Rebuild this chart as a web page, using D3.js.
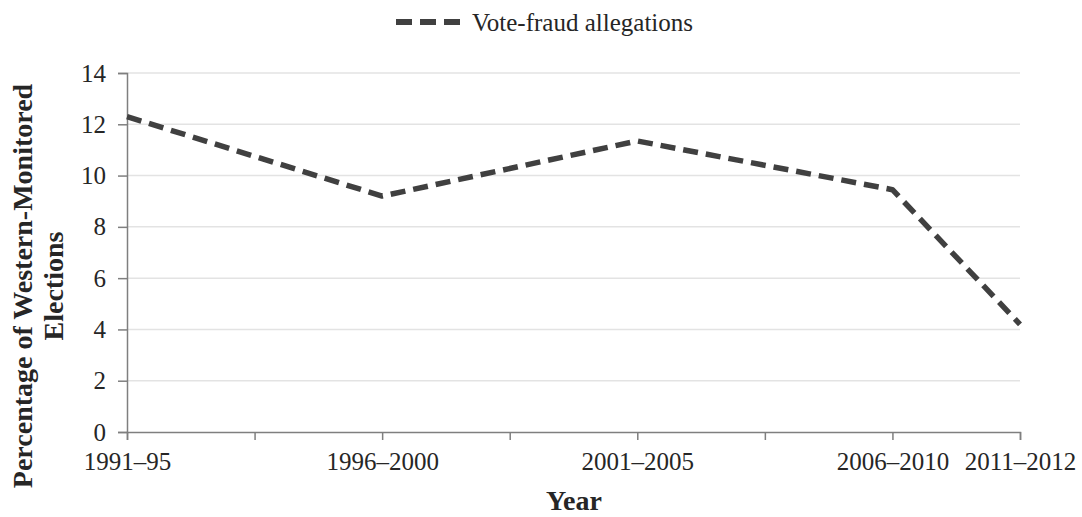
<!DOCTYPE html>
<html lang="en">
<head>
<meta charset="UTF-8">
<title>Vote-fraud allegations</title>
<script src="https://d3js.org/d3.v7.min.js"></script>
<style>
  body { margin: 0; background: #fff; }
  svg text { font-family: "Liberation Serif", "DejaVu Serif", serif; fill: #262626; }
</style>
</head>
<body>
<div id="chart"></div>
<script>
// data
const periods = ["1991–95", "1996–2000", "2001–2005", "2006–2010", "2011–2012"];
const periodPos = [0, 2, 4, 6, 7];   // position on the date-like axis (7 intervals)
const fraudPct = [12.3, 9.2, 11.35, 9.45, 4.2];
const yTicks = [0, 2, 4, 6, 8, 10, 12, 14];
const xTicks = [0, 1, 2, 3, 4, 5, 6, 7];

const width = 1082, height = 517;
const margin = {top: 73, right: 62, bottom: 85, left: 127};

const svg = d3.select("#chart").append("svg")
  .attr("width", width).attr("height", height);

const x = d3.scaleLinear().domain([0, 7]).range([margin.left, width - margin.right]);
const y = d3.scaleLinear().domain([0, 14]).range([height - margin.bottom, margin.top]);

// gridlines
svg.append("g")
  .selectAll("line")
  .data(yTicks.filter(d => d > 0))
  .enter().append("line")
  .attr("x1", x(0)).attr("x2", x(7))
  .attr("y1", d => y(d)).attr("y2", d => y(d))
  .attr("stroke", "#e3e3e3").attr("stroke-width", 1.5);

// y axis
const yAxis = svg.append("g")
  .attr("transform", `translate(${x(0)},0)`)
  .call(d3.axisLeft(y).tickValues(yTicks).tickSize(9).tickPadding(12));
yAxis.selectAll("text").style("font-size", "25px");

// x axis
const labelAt = new Map(periodPos.map((p, i) => [p, periods[i]]));
const xAxis = svg.append("g")
  .attr("transform", `translate(0,${y(0)})`)
  .call(d3.axisBottom(x).tickValues(xTicks).tickSize(8).tickPadding(12)
    .tickFormat(d => labelAt.get(d) || ""));
xAxis.selectAll("text").style("font-size", "25px");

svg.selectAll(".domain, .tick line")
  .attr("stroke", "#7f7f7f").attr("stroke-width", 1.5);

// line
const line = d3.line()
  .x((d, i) => x(periodPos[i]))
  .y(d => y(d));

svg.append("path")
  .datum(fraudPct)
  .attr("d", line)
  .attr("fill", "none")
  .attr("stroke", "#404040")
  .attr("stroke-width", 5.5)
  .attr("stroke-dasharray", "15 8")
  .attr("stroke-linejoin", "round");

// axis titles
svg.append("text")
  .attr("transform", "translate(32,286) rotate(-90)")
  .attr("text-anchor", "middle")
  .style("font-size", "28px").style("font-weight", "bold")
  .text("Percentage of Western-Monitored");
svg.append("text")
  .attr("transform", "translate(63,286) rotate(-90)")
  .attr("text-anchor", "middle")
  .style("font-size", "28px").style("font-weight", "bold")
  .text("Elections");

svg.append("text")
  .attr("x", 574).attr("y", 510)
  .attr("text-anchor", "middle")
  .style("font-size", "28px").style("font-weight", "bold")
  .text("Year");

// legend
const legend = svg.append("g").attr("transform", "translate(396,22)");
legend.append("line")
  .attr("x1", 0).attr("x2", 64).attr("y1", 0).attr("y2", 0)
  .attr("stroke", "#404040").attr("stroke-width", 6)
  .attr("stroke-dasharray", "16 8");
legend.append("text")
  .attr("x", 76).attr("y", 0).attr("dy", "0.35em")
  .style("font-size", "25px")
  .text("Vote-fraud allegations");
</script>
</body>
</html>
